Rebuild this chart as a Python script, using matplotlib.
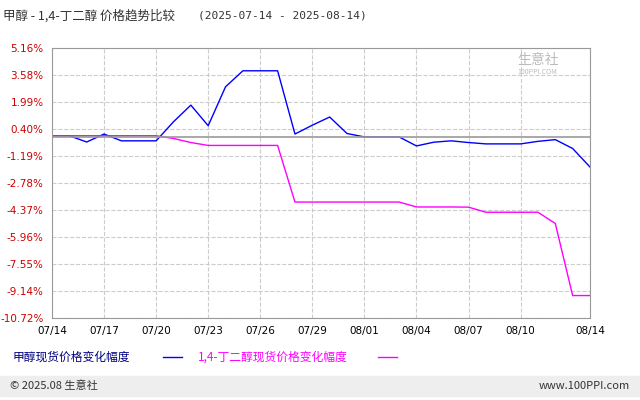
import matplotlib
matplotlib.use("Agg")
import matplotlib.pyplot as plt
import numpy as np
import pandas as pd

plt.rcParams['font.family'] = ['Noto Sans CJK SC', 'DejaVu Sans']

dates = pd.date_range("2025-07-14", "2025-08-14")
methanol = [0, 0, -0.37, 0.1, -0.3, -0.3, -0.3, 0.82, 1.8, 0.59, 2.88, 3.82, 3.82, 3.82,
            0.1, 0.62, 1.1, 0.13, -0.07, -0.07, -0.07, -0.6, -0.38, -0.3, -0.4, -0.48,
            -0.48, -0.48, -0.33, -0.23, -0.75, -1.84]
bdo = [0, 0, 0, 0, 0, 0, 0, -0.16, -0.4, -0.57, -0.57, -0.57, -0.57, -0.57,
       -3.9, -3.9, -3.9, -3.9, -3.9, -3.9, -3.9, -4.19, -4.19, -4.19, -4.2, -4.5,
       -4.5, -4.5, -4.5, -5.16, -9.4, -9.4]
yticks = [5.16, 3.58, 1.99, 0.40, -1.19, -2.78, -4.37, -5.96, -7.55, -9.14, -10.72]
tick_idx = [0, 3, 6, 9, 12, 15, 18, 21, 24, 27, 31]

x = np.arange(len(dates))
fig = plt.figure(figsize=(6.4, 4), dpi=100)
ax = fig.add_axes([52/640, 82/400, 538/640, 270/400])
ax.plot(x, methanol, color='#0000ff', lw=1)
ax.plot(x, bdo, color='#ff00ff', lw=1)
ax.axhline(-0.05, color='#999999', lw=1.2)
ax.set_xlim(0, 31)
ax.set_ylim(-10.72, 5.16)
ax.set_yticks(yticks)
ax.set_yticklabels([f"{v:.2f}%" for v in yticks], color='#cc0000', fontsize=7.5, family='DejaVu Sans')
ax.set_xticks(tick_idx)
ax.set_xticklabels([dates[i].strftime("%m/%d") for i in tick_idx], fontsize=7.5, family='DejaVu Sans')
ax.grid(True, color='#cccccc', ls='--', lw=0.8)
ax.tick_params(length=0, pad=6)
for s in ax.spines.values():
    s.set_color('#999999')

fig.text(0.005, 0.96, "甲醇 - 1,4-丁二醇 价格趋势比较", fontsize=9, color='#333333', va='center')
fig.text(0.31, 0.96, "(2025-07-14 - 2025-08-14)", fontsize=8, color='#333333', va='center',
         family='DejaVu Sans Mono')
fig.text(0.84, 0.84, "生意社", fontsize=10, color='#bbbbbb', ha='center')
fig.text(0.84, 0.815, "100PPI.COM", fontsize=5, color='#bbbbbb', ha='center')

fig.text(0.02, 0.108, "甲醇现货价格变化幅度", fontsize=8.5, color='#000080', va='center')
fig.add_artist(plt.Line2D([0.255, 0.285], [0.108, 0.108], color='#0000ff', lw=1))
fig.text(0.31, 0.108, "1,4-丁二醇现货价格变化幅度", fontsize=8.5, color='#ff00ff', va='center')
fig.add_artist(plt.Line2D([0.59, 0.62], [0.108, 0.108], color='#ff00ff', lw=1))

fig.patches.append(plt.Rectangle((0, 0.01), 1, 0.05, transform=fig.transFigure,
                                 color='#eeeeee', zorder=0))
fig.text(0.015, 0.035, "© 2025.08 生意社", fontsize=8, color='#333333', va='center')
fig.text(0.985, 0.035, "www.100PPI.com", fontsize=8, color='#333333', va='center', ha='right')

fig.savefig("out.png", dpi=100)
